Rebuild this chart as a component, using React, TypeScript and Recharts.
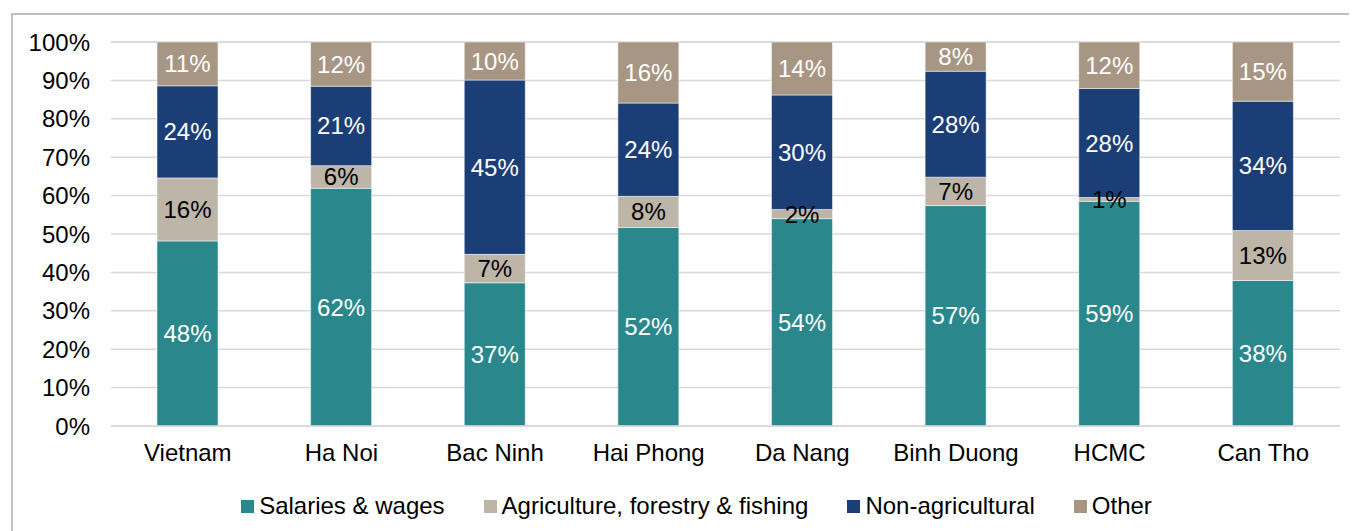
import React from "react";
import { BarChart, Bar, XAxis, YAxis, CartesianGrid, Legend, LabelList } from "recharts";

const categories = ["Vietnam", "Ha Noi", "Bac Ninh", "Hai Phong", "Da Nang", "Binh Duong", "HCMC", "Can Tho"];
const salaries = [48.2, 61.9, 37.3, 51.7, 54.0, 57.4, 58.5, 37.9];
const agriculture = [16.4, 5.9, 7.4, 8.1, 2.4, 7.4, 1.0, 13.0];
const nonAgricultural = [24.0, 20.7, 45.4, 24.3, 29.8, 27.6, 28.4, 33.7];
const other = [11.4, 11.5, 9.9, 15.9, 13.8, 7.6, 12.1, 15.4];
const yTicks = [0, 10, 20, 30, 40, 50, 60, 70, 80, 90, 100];

const series = [
  { key: "salaries", name: "Salaries & wages", color: "#2A888C", label: "#ffffff" },
  { key: "agriculture", name: "Agriculture, forestry & fishing", color: "#BDB5A8", label: "#000000" },
  { key: "nonAgricultural", name: "Non-agricultural", color: "#1C3E77", label: "#ffffff" },
  { key: "other", name: "Other", color: "#A69683", label: "#ffffff" },
];

const data = categories.map((c, i) => ({
  name: c,
  salaries: salaries[i],
  agriculture: agriculture[i],
  nonAgricultural: nonAgricultural[i],
  other: other[i],
}));

const FONT = "'Liberation Sans', Arial, sans-serif";
const FS = 24;

const LegendContent = () => (
  <div style={{ display: "flex", justifyContent: "center", gap: 39, fontFamily: FONT, fontSize: FS, color: "#000", paddingLeft: 45, lineHeight: "26px" }}>
    {series.map((s) => (
      <div key={s.key} style={{ display: "flex", alignItems: "center" }}>
        <span style={{ width: 13, height: 13, background: s.color, display: "inline-block", marginRight: 5 }} />
        <span>{s.name}</span>
      </div>
    ))}
  </div>
);

export default function App() {
  return (
    <div style={{ position: "relative", width: 1349, height: 523, fontFamily: FONT }}>
      <div style={{ position: "absolute", left: 3, top: 5, right: -20, bottom: -20, borderLeft: "2px solid #c0c0c0", borderTop: "2px solid #c0c0c0" }} />
      <BarChart
        width={1349}
        height={523}
        data={data}
        margin={{ top: 34, right: 17, left: 0, bottom: 9 }}
        style={{ position: "absolute", left: 0, top: 0 }}
      >
        <CartesianGrid vertical={false} stroke="#d9d9d9" strokeWidth={1.5} />
        <XAxis
          dataKey="name"
          axisLine={{ stroke: "#d9d9d9", strokeWidth: 1.5 }}
          tickLine={false}
          tickMargin={12}
          height={70}
          tick={{ fill: "#000", fontSize: FS, fontFamily: FONT }}
        />
        <YAxis
          width={103}
          domain={[0, 100]}
          ticks={yTicks}
          axisLine={false}
          tickLine={false}
          tickMargin={15}
          tickFormatter={(v) => `${v}%`}
          tick={{ fill: "#000", fontSize: FS, fontFamily: FONT }}
        />
        <Legend verticalAlign="bottom" content={<LegendContent />} wrapperStyle={{ bottom: 12 }} />
        {series.map((s) => (
          <Bar
            key={s.key}
            dataKey={s.key}
            name={s.name}
            stackId="a"
            fill={s.color}
            barSize={61}
            stroke="#ffffff"
            strokeWidth={0.5}
            isAnimationActive={false}
          >
            <LabelList
              dataKey={s.key}
              position="center"
              formatter={(v: number) => `${Math.round(v)}%`}
              fill={s.label}
              style={{ fontSize: FS, fontFamily: FONT, fill: s.label }}
            />
          </Bar>
        ))}
      </BarChart>
    </div>
  );
}
